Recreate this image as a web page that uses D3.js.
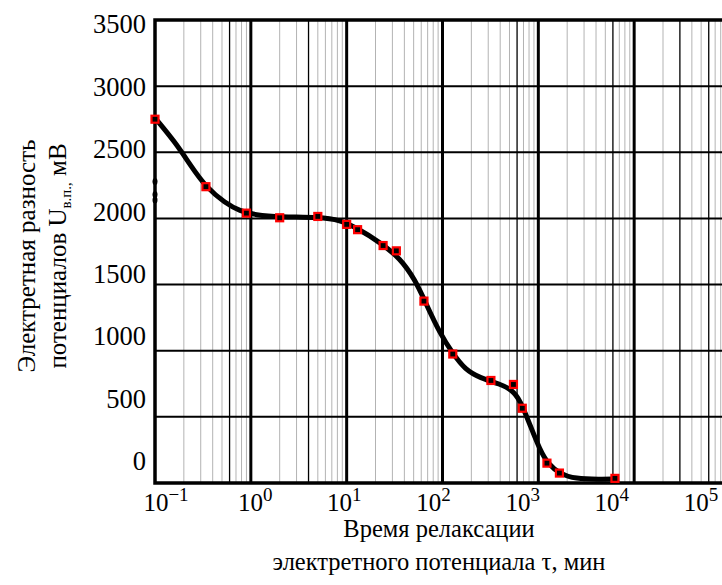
<!DOCTYPE html>
<html>
<head>
<meta charset="utf-8">
<script src="https://cdn.jsdelivr.net/npm/d3@7"></script>
<style>
  body { margin: 0; background: #fff; }
  svg { display: block; font-family: "Liberation Serif", "Times New Roman", serif; }
</style>
</head>
<body>
<div id="chart"></div>
<script>
// measured points, time in minutes, potential in mV
const timeMin      = [0.1, 0.34, 0.9, 2, 5, 10, 13, 24, 33, 64, 128, 320, 550, 680, 1230, 1660, 6300];
const potentialMv  = [2750, 2240, 2040, 2005, 2015, 1955, 1915, 1795, 1755, 1375, 975, 775, 745, 565, 150, 75, 35];

// extra readings at the very start (small dots on the axis)
const startTime      = [0.1, 0.1, 0.1];
const startPotential = [2280, 2180, 2140];

// smoothed relaxation curve
const curveTime      = [0.1, 0.165, 0.235, 0.34, 0.54, 0.77, 1.11, 2.0, 5.3, 8.5, 12.8, 22, 36, 52, 66, 94, 129, 172, 247, 400, 533, 646, 820, 1040, 1265, 1690, 2420, 4400, 6300];
const curvePotential = [2760, 2570, 2400, 2237, 2116, 2056, 2026, 2011, 2011, 1988, 1927, 1822, 1701, 1534, 1370, 1130, 975, 858, 794, 748, 703, 627, 438, 249, 144, 68, 32, 28, 30];

const yTicks      = [0, 500, 1000, 1500, 2000, 2500, 3000, 3500];
const xTickPowers = [-1, 0, 1, 2, 3, 4, 5];
const darkMinor   = [0.6, 4, 600, 6000, 30000, 60000];

const width = 722, height = 585;

let svg = d3.select("#chart")
    .append("svg")
      .attr("width", width)
      .attr("height", height);

// scales
let x = d3.scaleLog()
  .domain([0.1, 1e5])
  .range([155, 730]);

let y = d3.scaleLinear()
  .domain([0, 3500])
  .range([483, 20]);

// the printed labels sit a little off the grid in the original
let xLabel = d3.scaleLog()
  .domain([0.1, 1e5])
  .range([166, 701]);

let yLabel = d3.scaleLinear()
  .domain([0, 3500])
  .range([461, 24]);

// grid lines
let minors = [];
for (let d = -1; d <= 4; d++) {
  for (let k = 2; k <= 9; k++) minors.push(+(k * Math.pow(10, d)).toPrecision(3));
}
let majors = [1, 10, 100, 1000, 10000];

let grid = svg.append("g");

grid.selectAll(".minor")
  .data(minors)
  .join("line")
    .attr("x1", d => x(d)).attr("x2", d => x(d))
    .attr("y1", y(3500)).attr("y2", y(0))
    .attr("stroke", d => darkMinor.includes(d) ? "#000" : "#b3b3b3")
    .attr("stroke-width", d => darkMinor.includes(d) ? 1.3 : 1);

grid.selectAll(".hline")
  .data(yTicks.slice(1, -1))
  .join("line")
    .attr("x1", x(0.1)).attr("x2", width)
    .attr("y1", d => y(d)).attr("y2", d => y(d))
    .attr("stroke", "#000")
    .attr("stroke-width", 2);

grid.selectAll(".major")
  .data(majors)
  .join("line")
    .attr("x1", d => x(d)).attr("x2", d => x(d))
    .attr("y1", y(3500)).attr("y2", y(0))
    .attr("stroke", "#000")
    .attr("stroke-width", 3);

// frame: top, bottom, left
svg.append("path")
  .attr("d", `M${width + 5},${y(3500)} H${x(0.1)} V${y(0)} H${width + 5}`)
  .attr("fill", "none")
  .attr("stroke", "#000")
  .attr("stroke-width", 3.5);

// curve
let curve = curveTime.map((t, i) => [t, curvePotential[i]]);
svg.append("path")
  .datum(curve)
  .attr("fill", "none")
  .attr("stroke", "#000")
  .attr("stroke-width", 5)
  .attr("stroke-linejoin", "round")
  .attr("stroke-linecap", "round")
  .attr("d", d3.line()
    .curve(d3.curveBasis)
    .x(d => x(d[0]))
    .y(d => y(d[1])));

// start readings
svg.selectAll(".start")
  .data(startTime.map((t, i) => [t, startPotential[i]]))
  .join("ellipse")
    .attr("cx", d => x(d[0]))
    .attr("cy", d => y(d[1]))
    .attr("rx", 2.5).attr("ry", 3.5)
    .attr("fill", "#000");

// markers
let pts = timeMin.map((t, i) => [t, potentialMv[i]]);
svg.selectAll(".pt")
  .data(pts)
  .join("rect")
    .attr("x", d => x(d[0]) - 3.5)
    .attr("y", d => y(d[1]) - 3.5)
    .attr("width", 7).attr("height", 7)
    .attr("fill", "#000")
    .attr("stroke", "#ff0000")
    .attr("stroke-width", 2.2);

// y tick labels
svg.selectAll(".ylab")
  .data(yTicks)
  .join("text")
    .attr("x", 146)
    .attr("y", d => yLabel(d))
    .attr("dy", "0.35em")
    .attr("text-anchor", "end")
    .attr("font-size", 26.5)
    .text(d => d);

// x tick labels, 10 with superscript
let xl = svg.selectAll(".xlab")
  .data(xTickPowers)
  .join("text")
    .attr("x", d => xLabel(Math.pow(10, d)))
    .attr("y", 511)
    .attr("text-anchor", "middle")
    .attr("font-size", 25);
xl.append("tspan").text("10");
xl.append("tspan")
  .attr("dy", -10)
  .attr("font-size", 19)
  .text(d => d < 0 ? "\u2212" + (-d) : d);

// axis titles
svg.append("text")
  .attr("x", 439).attr("y", 537)
  .attr("text-anchor", "middle")
  .attr("font-size", 24.5)
  .text("Время релаксации");

svg.append("text")
  .attr("x", 439).attr("y", 570)
  .attr("text-anchor", "middle")
  .attr("font-size", 24.5)
  .text("электретного потенциала τ, мин");

let ytitle = svg.append("g")
  .attr("transform", "translate(0,256) rotate(-90)");

ytitle.append("text")
  .attr("x", 0).attr("y", 35)
  .attr("text-anchor", "middle")
  .attr("font-size", 25)
  .text("Электретная разность");

let t2 = ytitle.append("text")
  .attr("x", 0).attr("y", 66)
  .attr("text-anchor", "middle")
  .attr("font-size", 25);
t2.append("tspan").text("потенциалов U");
t2.append("tspan").attr("dy", 5).attr("font-size", 15).text("в.п.,");
t2.append("tspan").attr("dy", -5).text(" мВ");
</script>
</body>
</html>
